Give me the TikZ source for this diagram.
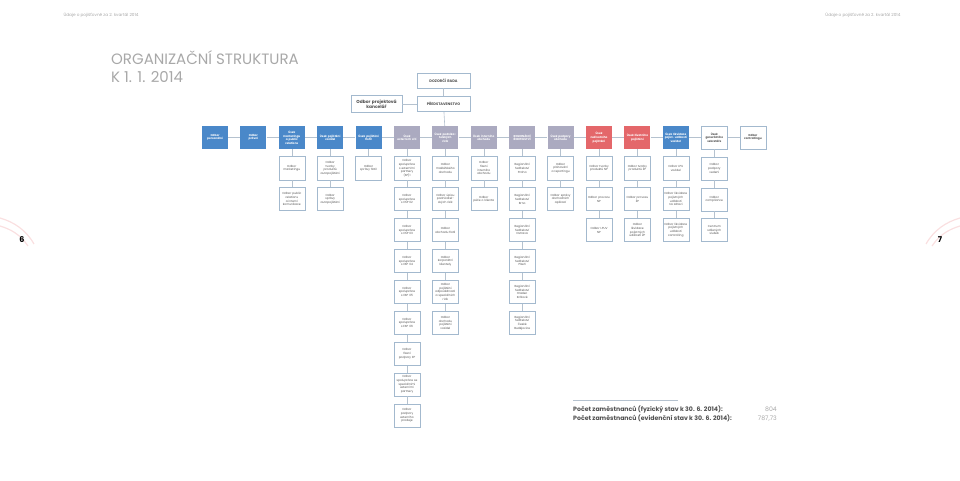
\documentclass[tikz,border=0pt]{standalone}
\usepackage{fontspec}
\setmainfont{Poppins}
\usetikzlibrary{positioning}
\definecolor{usekblue}{HTML}{4A88C9}
\definecolor{usekgray}{HTML}{ABAAC0}
\definecolor{usekred}{HTML}{E4676A}
\definecolor{boxline}{HTML}{A3B9CE}
\definecolor{linkline}{HTML}{B5C2CF}
\definecolor{titlegray}{HTML}{A8A8A8}
\definecolor{textgray}{HTML}{505050}

\begin{document}
\begin{tikzpicture}[x=1pt,y=1pt,node distance=7.3pt and 12pt,
  usek/.style={fill=#1,text=white,minimum width=26pt,minimum height=23pt,text width=25pt,
    inner sep=.5pt,align=center,font=\fontsize{2.8}{3.6}\selectfont\bfseries},
  odbor/.style={draw=boxline,fill=white,line width=.6pt,text=textgray,minimum width=26pt,
    minimum height=23pt,text width=25pt,inner sep=.5pt,align=center,
    font=\fontsize{2.9}{3.7}\selectfont},
  vedeni/.style={odbor,minimum width=53pt,minimum height=15pt,text width=52pt,
    font=\fontsize{3.6}{4.5}\selectfont\bfseries},
  link/.style={draw=linkline,line width=.6pt},
  swoosh/.style={draw=usekred!35,line width=1.2pt,opacity=.6}]
\useasboundingbox (0,0) rectangle (960,480);

% okraje stran
\draw[swoosh] (0,262) .. controls (14,258) and (26,250) .. (34,236);
\draw[swoosh] (0,254) .. controls (10,251) and (20,246) .. (28,234);
\draw[swoosh] (960,262) .. controls (946,258) and (934,250) .. (926,236);
\draw[swoosh] (960,254) .. controls (950,251) and (940,246) .. (932,234);

% header, title
\node[text=titlegray,font=\fontsize{4.2}{5}\selectfont,anchor=west] (hl) at (60,465) {Údaje o pojišťovně za 2. kvartál 2014};
\node[text=titlegray,font=\fontsize{4.2}{5}\selectfont,anchor=east] (hr) at (904,465) {Údaje o pojišťovně za 2. kvartál 2014};
\node[text=titlegray,font=\fontsize{15}{18}\selectfont,anchor=base west,align=left,inner sep=0pt] (title) at (111,397) {ORGANIZAČNÍ STRUKTURA\\K 1. 1. 2014};
\node[font=\fontsize{8}{9}\selectfont\bfseries] (p6) at (22,240) {6};
\node[font=\fontsize{8}{9}\selectfont\bfseries] (p7) at (940,240) {7};

% vedeni
\node[vedeni] (dr) at (443.5,399.5) {DOZORČÍ RADA};
\node[vedeni] (pr) at (443.5,376) {PŘEDSTAVENSTVO};
\node[vedeni,minimum width=51pt,text width=50pt,minimum height=17pt,font=\fontsize{4.4}{5.2}\selectfont\bfseries] (pk) at (376.5,376) {Odbor projektová\\kancelář};

% useky
\node[usek=usekblue] (u1) at (215,342.5) {Odbor\\personální};
\node[usek=usekblue] (u2) [right=of u1] {Odbor\\právní};
\node[usek=usekblue] (u3) [right=of u2] {Úsek\\marketingu\\a public\\relations};
\node[usek=usekblue] (u4) [right=of u3] {Úsek pojištění\\vozidel};
\node[usek=usekblue] (u5) [right=of u4] {Úsek pojištění\\flotil};
\node[usek=usekgray] (u6) [right=of u5] {Úsek\\externích sítí};
\node[usek=usekgray] (u7) [right=of u6] {Úsek podnika-\\telských\\rizik};
\node[usek=usekgray] (u8) [right=of u7] {Úsek interního\\obchodu};
\node[usek=usekgray] (u9) [right=of u8] {REGIONÁLNÍ\\ŘEDITELSTVÍ};
\node[usek=usekgray] (u10) [right=of u9] {Úsek podpory\\obchodu};
\node[usek=usekred] (u11) [right=of u10] {Úsek\\neživotního\\pojištění};
\node[usek=usekred] (u12) [right=of u11] {Úsek životního\\pojištění};
\node[usek=usekblue] (u13) [right=of u12] {Úsek likvidace\\pojist. událostí\\vozidel};
\node[odbor,font=\fontsize{2.8}{3.6}\selectfont\bfseries] (u14) [right=of u13] {Úsek\\generálního\\sekretáře};
\node[odbor,font=\fontsize{2.8}{3.6}\selectfont\bfseries] (u15) [right=of u14] {Odbor\\controllingu};

% odbory
\node[odbor] (o3a) [below=of u3] {Odbor\\marketingu};
\node[odbor] (o3b) [below=of o3a] {Odbor public\\relations\\a interní\\komunikace};
\node[odbor] (o4a) [below=of u4] {Odbor\\tvorby\\produktů\\autopojištění};
\node[odbor] (o4b) [below=of o4a] {Odbor\\správy\\autopojištění};
\node[odbor] (o5a) [below=of u5] {Odbor\\správy flotil};
\node[odbor] (o6a) [below=of u6] {Odbor\\spolupráce\\s externími\\partnery\\(SP)1};
\node[odbor] (o6b) [below=of o6a] {Odbor\\spolupráce\\s ESP 02};
\node[odbor] (o6c) [below=of o6b] {Odbor\\spolupráce\\s ESP 03};
\node[odbor] (o6d) [below=of o6c] {Odbor\\spolupráce\\s ESP 04};
\node[odbor] (o6e) [below=of o6d] {Odbor\\spolupráce\\s ESP 05};
\node[odbor] (o6f) [below=of o6e] {Odbor\\spolupráce\\s ESP 06};
\node[odbor] (o6g) [below=of o6f] {Odbor\\řízení\\podpory EP};
\node[odbor] (o6h) [below=of o6g] {Odbor\\spolupráce se\\speciálními\\externími\\partnery};
\node[odbor] (o6i) [below=of o6h] {Odbor\\podpory\\externího\\prodeje};
\node[odbor] (o7a) [below=of u7] {Odbor\\makléřského\\obchodu};
\node[odbor] (o7b) [below=of o7a] {Odbor úpisu\\podnikatel-\\ských rizik};
\node[odbor] (o7c) [below=of o7b] {Odbor\\obchodu flotil};
\node[odbor] (o7d) [below=of o7c] {Odbor\\korporátní\\klientely};
\node[odbor] (o7e) [below=of o7d] {Odbor\\pojištění\\odpovědnosti\\a speciálních\\rizik};
\node[odbor] (o7f) [below=of o7e] {Odbor\\obchodu\\pojištění\\vozidel};
\node[odbor] (o8a) [below=of u8] {Odbor\\řízení\\interního\\obchodu};
\node[odbor] (o8b) [below=of o8a] {Odbor\\péče o klienta};
\node[odbor] (o9a) [below=of u9] {Regionální\\ředitelství\\Praha};
\node[odbor] (o9b) [below=of o9a] {Regionální\\ředitelství\\Brno};
\node[odbor] (o9c) [below=of o9b] {Regionální\\ředitelství\\Ostrava};
\node[odbor] (o9d) [below=of o9c] {Regionální\\ředitelství\\Plzeň};
\node[odbor] (o9e) [below=of o9d] {Regionální\\ředitelství\\Hradec\\Králové};
\node[odbor] (o9f) [below=of o9e] {Regionální\\ředitelství\\České\\Budějovice};
\node[odbor] (o10a) [below=of u10] {Odbor\\plánování\\a reportingu};
\node[odbor] (o10b) [below=of o10a] {Odbor správy\\obchodních\\aplikací};
\node[odbor] (o11a) [below=of u11] {Odbor tvorby\\produktů NP};
\node[odbor] (o11b) [below=of o11a] {Odbor provozu\\NP};
\node[odbor] (o11c) [below=of o11b] {Odbor LPUV\\NP};
\node[odbor] (o12a) [below=of u12] {Odbor tvorby\\produktů ŽP};
\node[odbor] (o12b) [below=of o12a] {Odbor provozu\\ŽP};
\node[odbor] (o12c) [below=of o12b] {Odbor\\likvidace\\pojistných\\událostí ŽP};
\node[odbor] (o13a) [below=of u13] {Odbor LPU\\vozidel};
\node[odbor] (o13b) [below=of o13a] {Odbor likvidace\\pojistných\\událostí\\na zdraví};
\node[odbor] (o13c) [below=of o13b] {Odbor likvidace\\pojistných\\událostí\\controlling};
\node[odbor] (o14a) [below=of u14] {Odbor\\podpory\\vedení};
\node[odbor] (o14b) [below=of o14a] {Odbor\\compliance};
\node[odbor] (o14c) [below=of o14b] {Centrum\\sdílených\\služeb};

% spojnice
\path[link] (dr) edge (pr) (pk) edge (pr) (pr) edge (u7)
  (u1) edge (u2) (u2) edge (u3) (u3) edge (u4) (u4) edge (u5) (u5) edge (u6)
  (u6) edge (u7) (u7) edge (u8) (u8) edge (u9) (u9) edge (u10) (u10) edge (u11)
  (u11) edge (u12) (u12) edge (u13) (u13) edge (u14) (u14) edge (u15);
\path[link] (u3) edge (o3a) (o3a) edge (o3b)
  (u4) edge (o4a) (o4a) edge (o4b)
  (u5) edge (o5a)
  (u6) edge (o6a) (o6a) edge (o6b) (o6b) edge (o6c) (o6c) edge (o6d) (o6d) edge (o6e)
  (o6e) edge (o6f) (o6f) edge (o6g) (o6g) edge (o6h) (o6h) edge (o6i)
  (u7) edge (o7a) (o7a) edge (o7b) (o7b) edge (o7c) (o7c) edge (o7d) (o7d) edge (o7e)
  (o7e) edge (o7f)
  (u8) edge (o8a) (o8a) edge (o8b)
  (u9) edge (o9a) (o9a) edge (o9b) (o9b) edge (o9c) (o9c) edge (o9d) (o9d) edge (o9e)
  (o9e) edge (o9f)
  (u10) edge (o10a) (o10a) edge (o10b)
  (u11) edge (o11a) (o11a) edge (o11b) (o11b) edge (o11c)
  (u12) edge (o12a) (o12a) edge (o12b) (o12b) edge (o12c)
  (u13) edge (o13a) (o13a) edge (o13b) (o13b) edge (o13c)
  (u14) edge (o14a) (o14a) edge (o14b) (o14b) edge (o14c);

% pocet zamestnancu
\coordinate (sa) at (573,80);
\coordinate (sb) at (678,80);
\draw[linkline,line width=.5pt] (sa) -- (sb);
\node[font=\fontsize{6.2}{7}\selectfont\bfseries,text=textgray,anchor=base west,inner sep=0pt] (z1) at (573,69) {Počet zaměstnanců (fyzický stav k 30. 6. 2014):};
\node[font=\fontsize{6.2}{7}\selectfont\bfseries,text=textgray,anchor=base west,inner sep=0pt] (z2) at (573,60) {Počet zaměstnanců (evidenční stav k 30. 6. 2014):};
\node[font=\fontsize{6.2}{7}\selectfont,text=titlegray,anchor=base east,inner sep=0pt] (n1) at (777,69) {804};
\node[font=\fontsize{6.2}{7}\selectfont,text=titlegray,anchor=base east,inner sep=0pt] (n2) at (777,60) {787,73};
\end{tikzpicture}
\end{document}
